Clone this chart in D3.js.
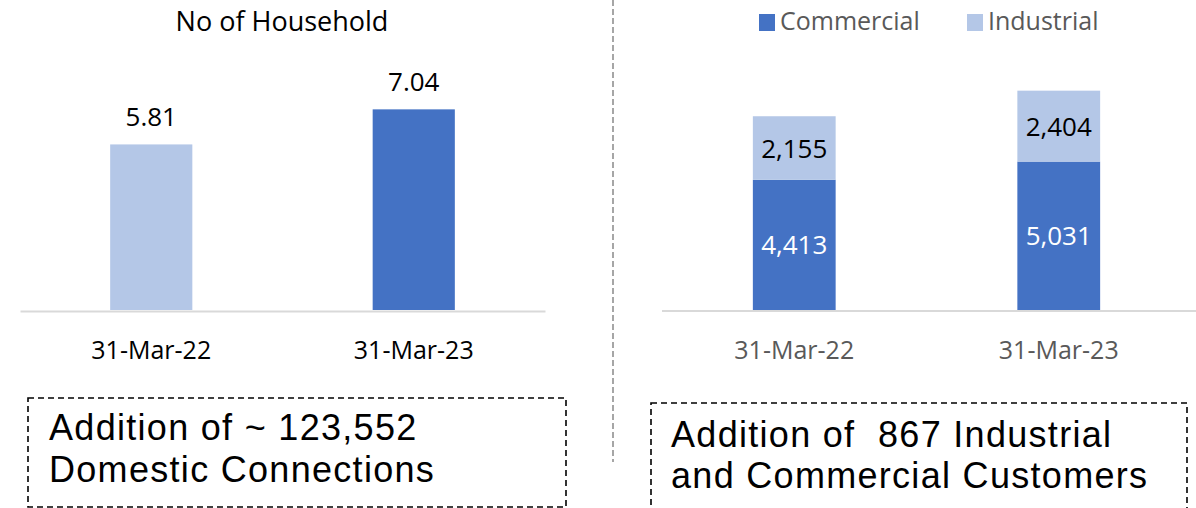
<!DOCTYPE html>
<html>
<head>
<meta charset="utf-8">
<script src="https://cdn.jsdelivr.net/npm/d3@7"></script>
<style>
  html, body { margin: 0; padding: 0; background: #fff; }
  svg { display: block; font-family: "Open Sans", sans-serif; }
  .pre { white-space: pre; }
</style>
</head>
<body>
<svg id="chart" width="1196" height="508"></svg>
<script>
// ---- data ----
const categories = ["31-Mar-22", "31-Mar-23"];
const households = [5.81, 7.04];               // lakh households
const householdLabels = ["5.81", "7.04"];
const commercial = [4413, 5031];
const industrial = [2155, 2404];
const seriesNames = ["Commercial", "Industrial"];
const leftTitle = "No of Household";
const leftNote = ["Addition of ~ 123,552", "Domestic Connections"];
const rightNote = ["Addition of  867 Industrial", "and Commercial Customers"];

const DARK = "#4472C4", LIGHT = "#B4C7E7";
const svg = d3.select("#chart");
const fmt = d3.format(",");

// ---- left chart ----
const xL = d3.scaleBand().domain(categories).range([20, 545]);
const yL = d3.scaleLinear().domain([0, 8]).range([310, 82]);
const bwL = xL.bandwidth() * 0.313;

svg.append("text").attr("x", 282).attr("y", 31).attr("text-anchor", "middle")
  .attr("font-size", 27).attr("fill", "#000").text(leftTitle);

svg.append("g").selectAll("rect").data(households).join("rect")
  .attr("x", (d, i) => xL(categories[i]) + xL.bandwidth() / 2 - bwL / 2)
  .attr("width", bwL)
  .attr("y", d => yL(d))
  .attr("height", d => yL(0) - yL(d))
  .attr("fill", (d, i) => i === 0 ? LIGHT : DARK);

svg.append("g").selectAll("text").data(households).join("text")
  .attr("x", (d, i) => xL(categories[i]) + xL.bandwidth() / 2)
  .attr("y", d => yL(d) - 18)
  .attr("text-anchor", "middle").attr("font-size", 26).attr("fill", "#000")
  .text((d, i) => householdLabels[i]);

const axL = svg.append("g").attr("transform", "translate(0,311)")
  .call(d3.axisBottom(xL).tickSize(0).tickPadding(30));
axL.select(".domain").attr("stroke", "#D9D9D9").attr("stroke-width", 2);
axL.selectAll("text").attr("font-size", 25).attr("fill", "#000")
  .attr("font-family", "Open Sans, sans-serif");

// ---- divider ----
svg.append("line").attr("x1", 613).attr("x2", 613).attr("y1", 0).attr("y2", 462)
  .attr("stroke", "#A6A6A6").attr("stroke-width", 2).attr("stroke-dasharray", "6,3");

// ---- right chart ----
const xR = d3.scaleBand().domain(categories).range([662, 1191]);
const yR = d3.scaleLinear().domain([0, 8000]).range([310, 74]);
const bwR = xR.bandwidth() * 0.313;

const stackData = categories.map((c, i) => ({ cat: c, Commercial: commercial[i], Industrial: industrial[i] }));
const stacked = d3.stack().keys(seriesNames)(stackData);
const colorR = d3.scaleOrdinal().domain(seriesNames).range([DARK, LIGHT]);
const labColor = { Commercial: "#fff", Industrial: "#000" };

const gS = svg.append("g").selectAll("g").data(stacked).join("g")
  .attr("fill", d => colorR(d.key));
gS.selectAll("rect").data(d => d).join("rect")
  .attr("x", d => xR(d.data.cat) + xR.bandwidth() / 2 - bwR / 2)
  .attr("width", bwR)
  .attr("y", d => yR(d[1]))
  .attr("height", d => yR(d[0]) - yR(d[1]));

stacked.forEach(s => {
  svg.append("g").selectAll("text").data(s).join("text")
    .attr("x", d => xR(d.data.cat) + xR.bandwidth() / 2)
    .attr("y", d => (yR(d[0]) + yR(d[1])) / 2 + 9.5)
    .attr("text-anchor", "middle").attr("font-size", 26)
    .attr("fill", labColor[s.key])
    .text(d => fmt(d.data[s.key]));
});

const axR = svg.append("g").attr("transform", "translate(0,311)")
  .call(d3.axisBottom(xR).tickSize(0).tickPadding(30));
axR.select(".domain").remove();
svg.append("line").attr("x1", 662).attr("x2", 1196).attr("y1", 311).attr("y2", 311)
  .attr("stroke", "#D9D9D9").attr("stroke-width", 2);
axR.selectAll("text").attr("font-size", 25).attr("fill", "#595959")
  .attr("font-family", "Open Sans, sans-serif");

// legend
const legX = [759, 967];
const leg = svg.append("g").selectAll("g").data(seriesNames).join("g")
  .attr("transform", (d, i) => `translate(${legX[i]},14)`);
leg.append("rect").attr("width", 16).attr("height", 17).attr("fill", d => colorR(d));
leg.append("text").attr("x", 21).attr("y", 16).attr("font-size", 25)
  .attr("fill", "#595959").text(d => d);

// ---- note boxes ----
function noteBox(x, y, w, h, lines, tx, baselines) {
  svg.append("rect").attr("x", x).attr("y", y).attr("width", w).attr("height", h)
    .attr("fill", "none").attr("stroke", "#000").attr("stroke-width", 1.6)
    .attr("stroke-dasharray", "6,4");
  lines.forEach((t, i) => {
    svg.append("text").attr("class", "pre").attr("x", tx).attr("y", baselines[i])
      .attr("font-family", "Liberation Sans, Arial, sans-serif")
      .attr("font-size", 36).attr("letter-spacing", 1.3)
      .attr("fill", "#000").text(t);
  });
}
noteBox(28, 398, 538, 109, leftNote, 49, [440, 482]);
noteBox(651, 403, 536, 115, rightNote, 671, [447, 488]);
</script>
</body>
</html>
